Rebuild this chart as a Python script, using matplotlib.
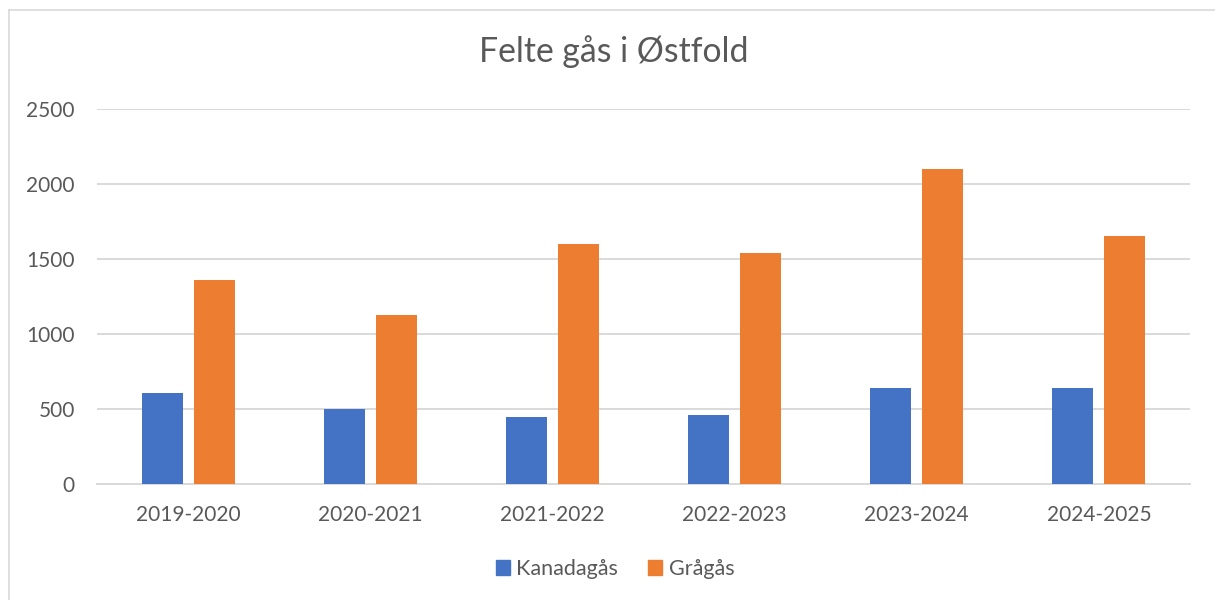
import numpy as np
import matplotlib.pyplot as plt
from matplotlib.lines import Line2D
from matplotlib.patches import Patch

plt.rcParams['font.family'] = ['Lato', 'DejaVu Sans']

seasons = ['2019-2020', '2020-2021', '2021-2022', '2022-2023', '2023-2024', '2024-2025']
kanadagas = [610, 500, 450, 460, 640, 640]
gragas = [1360, 1130, 1600, 1540, 2100, 1650]

blue = '#4472C4'
orange = '#ED7D31'
grid_col = '#D9D9D9'
text_col = '#595959'

W, H = 1215, 600
fig = plt.figure(figsize=(W / 100, H / 100), dpi=100)

# chart border (only top and left visible in the crop)
fig.add_artist(Line2D([9 / W, 1], [1 - 10 / H, 1 - 10 / H], color=grid_col, lw=1.2))
fig.add_artist(Line2D([9 / W, 9 / W], [0, 1 - 10 / H], color=grid_col, lw=1.2))

left, right, top, bottom = 97, 1190, 108.7, 484.3
ax = fig.add_axes([left / W, 1 - bottom / H, (right - left) / W, (bottom - top) / H])

x = np.arange(len(seasons))
bw = 0.225
off = 0.143
ax.bar(x - off, kanadagas, bw, color=blue, zorder=3)
ax.bar(x + off, gragas, bw, color=orange, zorder=3)

ax.set_xlim(-0.5, len(seasons) - 0.5)
ax.set_ylim(0, 2500)
ax.set_yticks(np.arange(0, 2501, 500))
ax.set_xticks(x)
ax.set_xticklabels(seasons)

ax.grid(axis='y', color=grid_col, lw=1.4, zorder=0)
for s in ['top', 'right', 'left']:
    ax.spines[s].set_visible(False)
ax.spines['bottom'].set_color(grid_col)
ax.spines['bottom'].set_linewidth(1.4)
ax.tick_params(axis='both', length=0, labelsize=15, colors=text_col)
ax.tick_params(axis='y', pad=16)
ax.tick_params(axis='x', pad=15)

fig.text(614 / W, 1 - 52 / H, 'Felte gås i Østfold', ha='center', va='center',
         fontsize=24.3, color=text_col)

handles = [Patch(color=blue, label='Kanadagås'), Patch(color=orange, label='Grågås')]
fig.legend(handles=handles, loc='center', bbox_to_anchor=(615 / W, 1 - 569 / H), ncol=2,
           frameon=False, fontsize=15.5, labelcolor=text_col, handlelength=0.65,
           handleheight=0.65, handletextpad=0.3, columnspacing=1.4)

fig.savefig('out.png', dpi=100)
